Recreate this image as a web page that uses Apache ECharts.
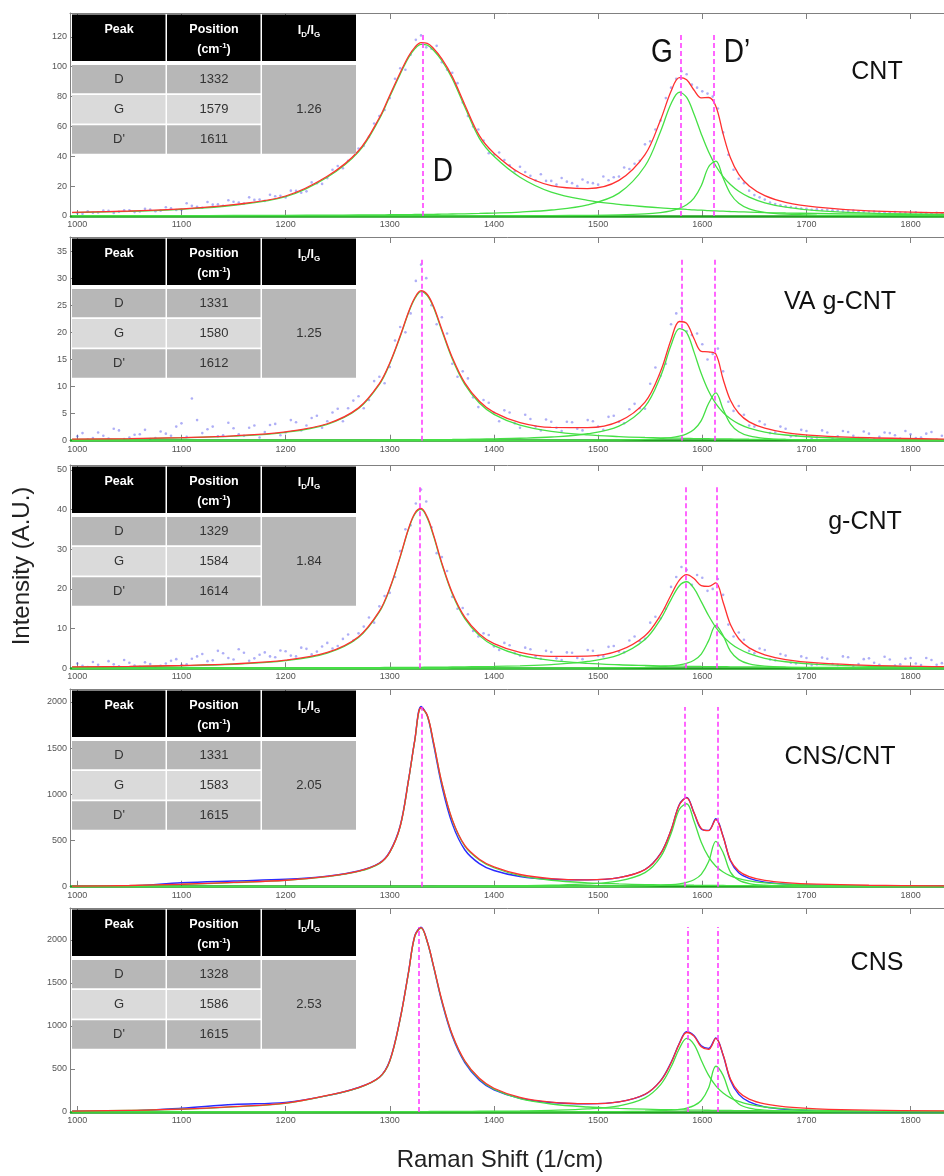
<!DOCTYPE html>
<html><head><meta charset="utf-8">
<script src="https://cdn.jsdelivr.net/npm/echarts@6/dist/echarts.min.js"></script>
<style>html,body{margin:0;padding:0;background:#fff}#c{width:944px;height:1176px}</style>
</head><body><div id="c"></div>
<script>
// ---------- data ----------
const sampleNames = ['CNT', 'VA g-CNT', 'g-CNT', 'CNS/CNT', 'CNS'];
const peakLabels = ['D', 'G', "D'"];
const peakPositions = [[1332, 1579, 1611], [1331, 1580, 1612], [1329, 1584, 1614], [1331, 1583, 1615], [1328, 1586, 1615]];
const ratios = ['1.26', '1.25', '1.84', '2.05', '2.53'];
const xTicks = [1000, 1100, 1200, 1300, 1400, 1500, 1600, 1700, 1800];
const yTicks = [[0, 20, 40, 60, 80, 100, 120], [0, 5, 10, 15, 20, 25, 30, 35], [0, 10, 20, 30, 40, 50], [0, 500, 1000, 1500, 2000], [0, 500, 1000, 1500, 2000]];
const yMax = [136, 37.6, 51.2, 2140, 2372];
const lineTop = [123, 33.4, 45.7, 1945, 2150];

const fitX = [995,1050,1100,1150,1200,1240,1270,1290,1300,1310,1318,1324,1330,1336,1342,1350,1360,1372,1386,1400,1425,1455,1490,1520,1545,1560,1570,1578,1585,1592,1599,1606,1613,1620,1627,1635,1645,1660,1680,1710,1760,1840];

const cntD = [2.2,3.1,4.5,7.2,12.9,26,43,65,80,95,106,112,115,114.5,111,104,92,73,52,40,26,16,10.5,7.8,6.2,5.4,5.0,4.7,4.4,4.1,3.9,3.6,3.4,3.2,3.0,2.8,2.6,2.3,2.0,1.7,1.3,1.0];
const cntG = [0.19,0.23,0.28,0.35,0.45,0.56,0.68,0.77,0.83,0.89,0.94,0.99,1.04,1.09,1.14,1.22,1.33,1.49,1.71,1.98,2.66,4.03,7.48,15.3,33.5,56.8,75.2,82.9,79.4,68.3,55,43,33.5,26.4,21.1,16.6,12.7,8.86,5.93,3.62,1.94,0.94];
const cntDp = [0.02,0.02,0.03,0.03,0.04,0.05,0.05,0.06,0.07,0.07,0.07,0.08,0.08,0.08,0.09,0.09,0.1,0.11,0.13,0.14,0.18,0.26,0.43,0.75,1.4,2.3,3.4,5.05,7.5,12,20.3,32.8,36.7,25.4,14.9,8.5,4.8,2.47,1.29,0.64,0.28,0.12];
const cntFit = [2.4,3.35,4.8,7.6,13.4,26.6,43.7,65.8,80.9,96,107,113,116.1,115.7,112.2,105.3,93.4,74.6,53.8,42.1,28.8,20.3,18.4,23.9,41.1,64.5,83.6,92.7,91.3,84.4,79.2,79.4,73.6,55,39,27.9,20.1,13.6,9.2,6,3.5,2.1];

const vaD = [0.25,0.35,0.52,0.83,1.55,3.03,5.94,10.4,14.2,19.2,23.6,26.2,27.5,26.8,24.6,20.3,15.1,10.4,6.96,4.87,2.86,1.72,1.07,0.77,0.6,0.53,0.48,0.46,0.43,0.4,0.38,0.36,0.34,0.32,0.31,0.29,0.27,0.25,0.22,0.19,0.15,0.11];
const vaG = [0.032,0.039,0.048,0.06,0.076,0.095,0.114,0.13,0.14,0.15,0.16,0.167,0.176,0.18,0.19,0.207,0.226,0.252,0.29,0.336,0.45,0.685,1.28,2.68,6.3,11.9,17.6,20.7,19.96,16.4,12.4,9.17,6.83,5.2,4.04,3.11,2.32,1.6,1.05,0.635,0.336,0.162];
const vaDp = [0.01,0.01,0.01,0.01,0.01,0.01,0.01,0.01,0.01,0.01,0.01,0.01,0.01,0.01,0.01,0.01,0.02,0.02,0.02,0.02,0.03,0.043,0.072,0.125,0.234,0.38,0.57,0.84,1.27,2.07,3.71,6.86,8.83,5.82,3.11,1.66,0.89,0.445,0.227,0.11,0.049,0.021];
const vaFit = [0.29,0.39,0.57,0.9,1.64,3.13,6.06,10.54,14.35,19.36,23.77,26.38,27.69,26.99,24.8,20.52,15.34,10.66,7.27,5.23,3.34,2.45,2.42,3.58,7.13,12.81,18.65,22.0,21.66,18.87,16.49,16.39,16.0,11.34,7.46,5.06,3.48,2.3,1.5,0.94,0.54,0.29];

const gD = [0.3,0.43,0.63,1.02,1.92,3.84,7.78,14.2,20,28,35,38.8,40,37.8,33.3,26.2,18.7,12.5,8.23,5.72,3.34,2.01,1.26,0.9,0.71,0.62,0.57,0.54,0.51,0.48,0.45,0.43,0.41,0.39,0.38,0.36,0.34,0.31,0.27,0.23,0.18,0.13];
const gG = [0.047,0.058,0.07,0.087,0.111,0.138,0.166,0.189,0.202,0.217,0.23,0.24,0.253,0.265,0.278,0.297,0.324,0.361,0.413,0.476,0.634,0.948,1.72,3.4,7.24,12.4,17.3,20.8,21.8,20.1,16.8,13.3,10.3,8.03,6.33,4.91,3.68,2.52,1.65,0.99,0.52,0.25];
const gDp = [0.01,0.01,0.01,0.01,0.01,0.01,0.01,0.01,0.01,0.01,0.01,0.01,0.01,0.01,0.01,0.01,0.02,0.02,0.02,0.02,0.03,0.047,0.078,0.135,0.247,0.4,0.59,0.85,1.26,2.02,3.59,6.9,10.8,8.22,4.3,2.18,1.12,0.54,0.27,0.129,0.056,0.023];
const gFit = [0.35,0.49,0.7,1.11,2.04,3.99,7.96,14.4,20.2,28.2,35.2,39.05,40.26,38.08,33.6,26.5,19.04,12.88,8.66,6.22,4.0,3.01,3.06,4.44,8.2,13.42,18.46,22.19,23.57,22.6,20.84,20.63,21.51,16.64,11.01,7.45,5.14,3.37,2.19,1.35,0.76,0.4];

const cnscntD = [5,12,25,45,68,110,165,250,370,650,1150,1580,1935,1850,1560,1120,720,440,290,205,120,70,42,30,23,20,18.5,17.5,16.5,15.5,14.8,14,13.4,12.8,12.2,11.6,11,10,9,7.5,5.8,4];
const cnscntG = [0.76,0.92,1.13,1.4,1.79,2.23,2.68,3.05,3.3,3.5,3.7,3.9,4.1,4.3,4.5,4.8,5.3,5.9,6.7,7.8,10.4,15.8,29.5,62,152,322,574,838,898,711,482,322,221,159,118,88,64,42,27,16,8.4,3.9];
const cnscntDp = [0.09,0.1,0.12,0.15,0.19,0.25,0.32,0.38,0.46,0.5,0.5,0.6,0.6,0.6,0.6,0.7,0.8,0.8,0.9,1,1.3,1.8,2.9,5.1,9.3,14.9,21.9,31.7,47,75,134,270,491,369,158,71,34,15.7,7.7,3.6,1.56,0.65];
const cnscntFit = [5.9,13,26.3,46.6,70,112.5,168,253.4,373.8,654,1154,1585,1940,1855,1565,1126,726,447,298,214,132,87.6,74.4,97.1,184.3,357,614,887,961.5,801.5,631,606,725,541,288,171,109,67.7,43.7,27.1,15.8,8.6];
const cnscntData = [3,8,42,62,80,115,170,255,380,660,1160,1590,1950,1850,1540,1090,680,400,250,175,110,80,74,98,186,360,612,890,965,800,625,610,735,545,280,150,90,50,28,15,8,4];

const cnsD = [10,18,32,60,100,190,280,400,590,1080,1620,2040,2138,1977,1694,1292,894,588,383,265,155,93,58,41.7,32.8,28.7,26.4,24.8,23.5,22.3,21.2,20.1,19.2,18.3,17.4,16.5,15.5,14,12.4,10.6,8.3,6];
const cnsG = [0.98,1.19,1.45,1.8,2.29,2.86,3.42,3.9,4.17,4.48,4.75,4.97,5.2,5.46,5.72,6.12,6.66,7.42,8.49,9.8,13,19.5,35.7,72,164.8,318.6,522.6,738.8,855,786,602.5,428.5,303.6,220.3,164.8,122.4,88.4,58.3,37.1,21.8,11.2,5.3];
const cnsDp = [0.12,0.14,0.17,0.21,0.26,0.32,0.38,0.43,0.46,0.49,0.51,0.54,0.56,0.58,0.61,0.65,0.7,0.78,0.88,0.98,1.25,1.76,2.88,4.96,9.07,14.6,21.5,31.2,46.1,74.1,134,279,532,426,201,94,46.1,21.5,10.5,4.96,2.14,0.89];
const cnsFit = [11.1,19.3,33.6,62,102.6,193.2,283.8,404.3,594.6,1085,1625,2046,2144,1983,1700,1299,901,596,392,276,169,114,96.6,118.7,206.7,362,570.5,795,924.6,882,758,727.6,855,664.6,383,233,150,93.8,60,37.4,21.6,12.2];
const cnsData = [8,12,45,88,112,190,285,405,600,1090,1630,2050,2150,1980,1690,1280,880,575,370,258,160,110,96,118,205,365,575,800,935,890,770,740,860,660,370,205,118,60,30,10,3,2];

// measured points (two interleaved sets of readings)
const scatX = [1000,1010,1020,1030,1040,1050,1060,1070,1080,1090,1100,1110,1120,1130,1140,1150,1160,1170,1180,1190,1200,1210,1220,1230,1240,1250,1260,1270,1280,1290,1300,1310,1320,1330,1340,1350,1360,1370,1380,1390,1400,1410,1420,1430,1440,1450,1460,1470,1480,1490,1500,1510,1520,1530,1540,1550,1560,1570,1580,1590,1600,1610,1620,1630,1640,1650,1660,1670,1680,1690,1700,1710,1720,1730,1740,1750,1760,1770,1780,1790,1800,1810,1820,1830];
const scatX2 = [1005,1015,1025,1035,1045,1055,1065,1075,1085,1095,1105,1115,1125,1135,1145,1155,1165,1175,1185,1195,1205,1215,1225,1235,1245,1255,1265,1275,1285,1295,1305,1315,1325,1335,1345,1355,1365,1375,1385,1395,1405,1415,1425,1435,1445,1455,1465,1475,1485,1495,1505,1515,1525,1535,1545,1555,1565,1575,1585,1595,1605,1615,1625,1635,1645,1655,1665,1675,1685,1695,1705,1715,1725,1735,1745,1755,1765,1775,1785,1795,1805,1815,1825];
const cntData = [2.0,3.1,2.4,3.5,2.8,3.9,3.0,4.4,3.6,5.2,4.1,6.8,5.5,7.6,6.9,9.5,8.4,10.8,10.1,13.2,12.4,16.8,16.5,22.0,25.4,33.5,37.0,45.2,53.0,67.0,79.0,99.0,108.0,121.0,112.0,103.0,96.0,76.0,60.0,50.5,41.0,37.5,30.0,29.5,24.0,23.5,21.0,23.0,20.0,22.5,21.0,24.0,26.5,31.5,37.0,50.0,64.0,86.0,97.0,88.0,83.5,80.0,56.0,31.0,22.0,14.0,11.0,8.0,6.5,5.5,4.8,4.5,4.2,3.6,3.4,3.0,2.8,2.6,2.4,2.1,2.0,1.9,1.8,1.7];
const cntData2 = [1.5,2.2,3.6,2.0,3.9,2.6,4.8,3.2,5.9,4.0,8.5,6.2,9.4,7.8,10.6,9.0,12.5,11.0,14.2,13.5,17.0,15.6,22.5,21.5,31.0,32.0,43.0,47.0,62.0,71.0,92.0,98.0,118.0,113.0,114.0,98.0,89.0,67.0,58.0,42.0,42.5,34.0,33.0,27.0,28.0,23.5,25.5,22.0,24.5,22.0,26.5,26.0,32.5,35.0,48.0,58.0,79.0,92.0,95.0,86.0,82.0,72.0,41.0,25.0,17.0,12.5,9.0,7.2,6.0,5.0,4.2,4.0,3.9,3.2,3.6,2.9,3.0,2.5,2.7,2.2,2.4,1.9,2.1];
const vaData = [0.8,0.2,1.5,0.4,1.9,0.6,1.2,0.3,1.7,0.9,3.2,7.8,1.4,2.6,1.0,2.3,0.9,2.8,1.6,3.1,1.5,3.4,2.8,4.6,3.6,5.9,6.0,8.2,7.5,11.8,13.6,21.0,23.5,32.5,25.0,22.8,14.2,12.8,8.0,7.5,5.2,5.6,3.2,4.8,2.6,3.9,2.4,3.5,2.2,3.8,2.6,4.4,3.5,5.8,6.0,10.5,12.0,21.5,24.5,19.5,17.8,16.0,12.8,5.5,4.8,2.6,3.0,1.5,2.2,0.9,1.8,0.6,1.5,0.8,1.6,0.5,1.3,0.7,1.4,0.4,1.2,0.6,1.6,0.9];
const vaData2 = [1.4,0.5,0.9,2.2,0.3,1.1,2.0,0.5,1.3,2.6,0.7,3.8,2.1,0.8,3.3,1.2,2.4,0.6,2.9,1.0,3.8,1.9,4.2,2.4,5.2,3.6,7.4,6.0,11.0,10.6,18.5,20.0,29.5,30.0,21.5,19.8,11.8,11.5,6.2,7.0,3.6,5.2,2.4,4.0,1.9,3.5,1.8,3.4,1.9,3.6,2.0,4.6,3.2,6.8,5.9,13.5,14.2,23.5,20.2,19.8,15.0,17.0,7.2,6.4,2.8,3.6,1.4,2.6,0.8,2.0,0.4,1.9,0.3,1.8,0.9,1.7,0.3,1.5,1.0,1.8,0.5,1.3,0.2];
const gData = [1.2,0.3,0.9,1.8,0.5,1.4,0.4,1.1,0.6,1.9,0.8,2.4,3.6,2.0,3.8,2.2,3.9,2.5,4.0,2.8,4.3,3.0,4.9,4.2,6.4,5.6,8.5,8.8,12.8,15.6,19.0,29.5,36.0,45.0,35.5,28.0,18.0,15.2,9.4,8.8,5.5,6.4,3.8,5.2,3.0,4.4,2.5,4.0,2.6,4.6,3.1,5.4,4.2,7.0,6.8,11.5,12.6,20.5,25.5,21.0,22.8,20.0,18.5,8.0,7.2,3.8,4.6,2.0,3.2,1.2,2.6,1.0,2.4,0.8,2.8,1.1,2.5,0.9,2.2,1.0,2.6,0.8,2.1,1.3];
const gData2 = [0.6,1.6,0.2,1.0,2.1,0.7,1.5,0.3,1.2,2.3,1.0,3.0,1.8,4.4,2.6,4.8,1.9,3.4,3.0,4.5,3.2,5.2,3.5,5.5,5.0,7.4,7.0,10.5,11.5,18.2,23.0,35.0,41.5,42.0,29.0,24.5,15.0,13.6,8.0,8.4,4.6,5.8,3.2,4.8,2.4,4.1,2.1,3.9,2.3,4.4,3.0,5.6,4.0,8.0,7.4,13.0,15.0,23.0,24.8,23.5,19.5,22.5,11.0,9.0,4.4,5.0,2.2,3.6,1.4,3.0,0.8,2.7,1.1,3.0,0.6,2.3,1.4,2.9,0.7,2.4,1.2,2.6,0.9];

// ---------- layout ----------
const panels = [
  {D: cntD, G: cntG, Dp: cntDp, fit: cntFit, dots: [[scatX, cntData], [scatX2, cntData2]]},
  {D: vaD, G: vaG, Dp: vaDp, fit: vaFit, dots: [[scatX, vaData], [scatX2, vaData2]]},
  {D: gD, G: gG, Dp: gDp, fit: gFit, dots: [[scatX, gData], [scatX2, gData2]]},
  {D: cnscntD, G: cnscntG, Dp: cnscntDp, fit: cnscntFit, line: cnscntData},
  {D: cnsD, G: cnsG, Dp: cnsDp, fit: cnsFit, line: cnsData}
];
const panelTop = [13, 237, 465, 689, 908];
const panelH = [203, 203.7, 203.3, 197.7, 204];
const namePos = [[877, 72], [840, 302], [865, 522], [840, 757], [877, 963]];
const FONT = 'Liberation Sans, Arial, sans-serif';
const AX = '#808080';
const pair = (xs, ys) => xs.map((x, k) => [x, ys[k]]);

const grid = [], xAxis = [], yAxis = [], series = [], graphic = [];

panels.forEach((p, i) => {
  grid.push({left: 70, right: -1, top: panelTop[i], height: panelH[i], containLabel: false, outerBoundsMode: 'none'});
  const common = {type: 'value', gridIndex: i, min: 993, max: 1833, splitLine: {show: false},
    axisLine: {show: true, onZero: false, lineStyle: {color: AX, width: 1}}};
  xAxis.push(Object.assign({}, common, {position: 'bottom',
    axisTick: {show: true, inside: true, length: 6, customValues: xTicks, lineStyle: {color: AX}},
    axisLabel: {show: true, customValues: xTicks, formatter: v => String(v), fontSize: 9, color: '#555', margin: 4, fontFamily: FONT}}));
  xAxis.push(Object.assign({}, common, {position: 'top',
    axisTick: {show: true, inside: true, length: 6, customValues: xTicks, lineStyle: {color: AX}},
    axisLabel: {show: false}}));
  yAxis.push({type: 'value', gridIndex: i, min: 0, max: yMax[i], splitLine: {show: false},
    axisLine: {show: true, onZero: false, lineStyle: {color: AX, width: 1}},
    axisTick: {show: true, inside: true, length: 5, customValues: yTicks[i], lineStyle: {color: AX}},
    axisLabel: {show: true, customValues: yTicks[i], formatter: v => String(v), fontSize: 9, color: '#555', margin: 3, fontFamily: FONT}});

  const xi = 2 * i, yi = i;
  if (p.dots) {
    p.dots.forEach(d => series.push({type: 'scatter', xAxisIndex: xi, yAxisIndex: yi, data: pair(d[0], d[1]), symbolSize: 2.6,
      itemStyle: {color: 'rgba(70,70,235,0.55)'}, z: 1, silent: true}));
  } else {
    series.push({type: 'line', xAxisIndex: xi, yAxisIndex: yi, data: pair(fitX, p.line), showSymbol: false,
      smooth: 0.35, lineStyle: {color: '#2b2bff', width: 1.4}, z: 2, silent: true});
  }
  [p.D, p.G, p.Dp].forEach((arr, k) => {
    const s = {type: 'line', xAxisIndex: xi, yAxisIndex: yi, data: pair(fitX, arr), showSymbol: false,
      smooth: 0.35, lineStyle: {color: '#45e045', width: 1.3}, z: 3, silent: true};
    if (k === 0) {
      s.markLine = {silent: true, symbol: ['none', 'none'], label: {show: false}, z: 2,
        lineStyle: {color: '#1f9e1f', width: 2.5, type: 'solid'}, data: [{yAxis: 0}]};
    }
    series.push(s);
  });
  series.push({type: 'line', xAxisIndex: xi, yAxisIndex: yi, data: pair(fitX, p.fit), showSymbol: false,
    smooth: 0.35, lineStyle: {color: '#ff3030', width: 1.3}, z: 4, silent: true,
    markLine: {silent: true, symbol: ['none', 'none'], label: {show: false}, z: 6,
      lineStyle: {color: '#ff40ff', width: 1.6, type: [5, 3]},
      data: peakPositions[i].map(v => [{coord: [v, 0]}, {coord: [v, lineTop[i]]}])}});

  // table
  const T = panelTop[i];
  const cols = [[72, 93.5], [167, 93.5], [262, 94]];
  cols.forEach(c => graphic.push({type: 'rect', shape: {x: c[0], y: T + 1.5, width: c[1], height: 46.5}, style: {fill: '#000'}, z: 10}));
  const rowY = [52, 82, 112.3], rowH = [28.3, 28.5, 28.5];
  const rowFill = ['#b7b7b7', '#dadada', '#b7b7b7'];
  for (let r = 0; r < 3; r++) {
    for (let c = 0; c < 2; c++) {
      graphic.push({type: 'rect', shape: {x: cols[c][0], y: T + rowY[r], width: cols[c][1], height: rowH[r]}, style: {fill: rowFill[r]}, z: 10});
    }
    graphic.push({type: 'text', x: 119, y: T + rowY[r] + rowH[r] / 2, z: 11,
      style: {text: peakLabels[r], fontSize: 13, fontFamily: FONT, fill: '#333', align: 'center', verticalAlign: 'middle', textAlign: 'center', textVerticalAlign: 'middle'}});
    graphic.push({type: 'text', x: 214, y: T + rowY[r] + rowH[r] / 2, z: 11,
      style: {text: String(peakPositions[i][r]), fontSize: 13, fontFamily: FONT, fill: '#333', align: 'center', verticalAlign: 'middle', textAlign: 'center', textVerticalAlign: 'middle'}});
  }
  graphic.push({type: 'rect', shape: {x: 262, y: T + 52, width: 94, height: 88.8}, style: {fill: '#b7b7b7'}, z: 10});
  graphic.push({type: 'text', x: 309, y: T + 96.5, z: 11,
    style: {text: ratios[i], fontSize: 13, fontFamily: FONT, fill: '#333', align: 'center', verticalAlign: 'middle', textAlign: 'center', textVerticalAlign: 'middle'}});
  const hdr = {fontSize: 12.5, fontWeight: 'bold', fontFamily: FONT, fill: '#fff', align: 'center', verticalAlign: 'middle', textAlign: 'center', textVerticalAlign: 'middle'};
  graphic.push({type: 'text', x: 119, y: T + 17, z: 11, style: Object.assign({text: 'Peak'}, hdr)});
  graphic.push({type: 'text', x: 214, y: T + 16.5, z: 11, style: Object.assign({text: 'Position'}, hdr)});
  graphic.push({type: 'text', x: 214, y: T + 37, z: 11, style: Object.assign({}, hdr, {
    text: '{b|(cm}{p|-1}{b|)}',
    rich: {b: {fontSize: 12.5, fontWeight: 'bold', fontFamily: FONT, fill: '#fff', lineHeight: 16, verticalAlign: 'middle'},
           p: {fontSize: 8, fontWeight: 'bold', fontFamily: FONT, fill: '#fff', lineHeight: 16, verticalAlign: 'top'}}})});
  graphic.push({type: 'text', x: 309, y: T + 18, z: 11, style: Object.assign({}, hdr, {
    text: '{b|I}{s|D}{b|/I}{s|G}',
    rich: {b: {fontSize: 12.5, fontWeight: 'bold', fontFamily: FONT, fill: '#fff', lineHeight: 16, verticalAlign: 'middle'},
           s: {fontSize: 8, fontWeight: 'bold', fontFamily: FONT, fill: '#fff', lineHeight: 16, verticalAlign: 'bottom'}}})});

  // sample name
  graphic.push({type: 'text', x: namePos[i][0], y: namePos[i][1], z: 11,
    style: {text: sampleNames[i], fontSize: 25, fontFamily: FONT, fill: '#111', align: 'center', verticalAlign: 'middle', textAlign: 'center', textVerticalAlign: 'middle'}});
});

// peak annotations in the first panel
[['D', 443, 172], ['G', 662, 53], ['D\u2019', 737, 53]].forEach(t => graphic.push({type: 'text', x: t[1], y: t[2], scaleX: 0.85, z: 11,
  style: {text: t[0], fontSize: 33, fontFamily: FONT, fill: '#111', align: 'center', verticalAlign: 'middle', textAlign: 'center', textVerticalAlign: 'middle'}}));

// axis titles
graphic.push({type: 'text', x: 22, y: 566, rotation: Math.PI / 2, z: 11,
  style: {text: 'Intensity (A.U.)', fontSize: 24, fontFamily: FONT, fill: '#222', align: 'center', verticalAlign: 'middle', textAlign: 'center', textVerticalAlign: 'middle'}});
graphic.push({type: 'text', x: 500, y: 1160, z: 11,
  style: {text: 'Raman Shift (1/cm)', fontSize: 24, fontFamily: FONT, fill: '#222', align: 'center', verticalAlign: 'middle', textAlign: 'center', textVerticalAlign: 'middle'}});

const chart = echarts.init(document.getElementById('c'), null, {renderer: 'canvas', width: 944, height: 1176});
chart.setOption({animation: false, backgroundColor: '#fff', grid, xAxis, yAxis, series, graphic});
</script>
</body></html>
